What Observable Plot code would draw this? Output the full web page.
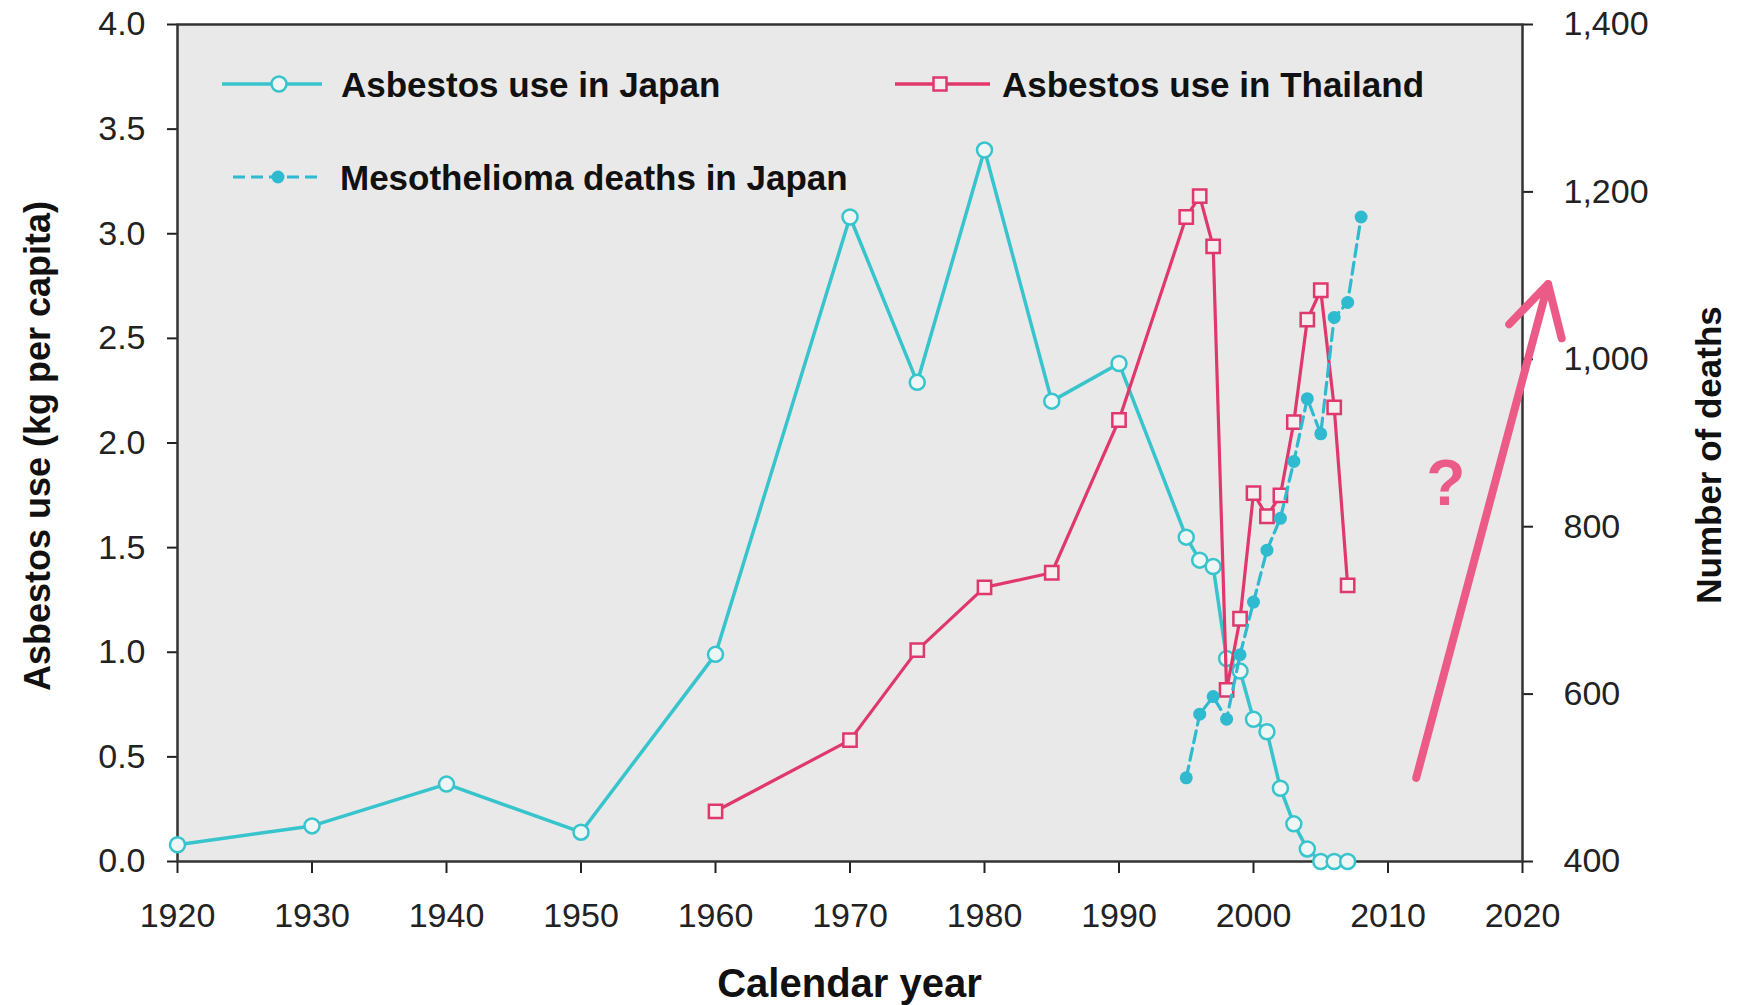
<!DOCTYPE html>
<html><head><meta charset="utf-8">
<script src="https://cdn.jsdelivr.net/npm/d3@7"></script>
<script src="https://cdn.jsdelivr.net/npm/@observablehq/plot@0.6"></script>
<style>body{margin:0;background:#fff;} #chart svg{display:block}</style>
</head><body><div id="chart"></div>
<script>
// ---- data ----
const japanYears = [1920,1930,1940,1950,1960,1970,1975,1980,1985,1990,1995,1996,1997,1998,1999,2000,2001,2002,2003,2004,2005,2006,2007];
const japanUse   = [0.08,0.17,0.37,0.14,0.99,3.08,2.29,3.40,2.20,2.38,1.55,1.44,1.41,0.97,0.91,0.68,0.62,0.35,0.18,0.06,0,0,0];

const thaiYears = [1960,1970,1975,1980,1985,1990,1995,1996,1997,1998,1999,2000,2001,2002,2003,2004,2005,2006,2007];
const thaiUse   = [0.24,0.58,1.01,1.31,1.38,2.11,3.08,3.18,2.94,0.82,1.16,1.76,1.65,1.75,2.10,2.59,2.73,2.17,1.32];

const mesoYears  = [1995,1996,1997,1998,1999,2000,2001,2002,2003,2004,2005,2006,2007,2008];
const mesoDeaths = [500,576,597,570,647,710,772,810,878,953,911,1050,1068,1170];

const xTicks = [1920,1930,1940,1950,1960,1970,1980,1990,2000,2010,2020];
const useTicks = [0,0.5,1,1.5,2,2.5,3,3.5,4];
const deathTicks = [400,600,800,1000,1200,1400];

const legendLabels = ["Asbestos use in Japan","Asbestos use in Thailand","Mesothelioma deaths in Japan"];
const xTitle = "Calendar year";
const yTitle = "Asbestos use (kg per capita)";
const y2Title = "Number of deaths";

// trend arrow annotation (data coordinates: year, kg per capita)
const trendArrow = [{x1: 2012.1, y1: 0.40, x2: 2021.9, y2: 2.76}];
const questionMark = [{year: 2014.3, value: 1.80, label: "?"}];

// ---- build ----
const W = 1739, H = 1005;
const cyan = "#37c4cc", red = "#e0376d", mesoC = "#2fbad0", pink = "#ec5a87";
const deathsMin = 400, deathsMax = 1400, useMax = 4;
const deathToY = d => (d - deathsMin) / (deathsMax - deathsMin) * useMax;

const japan = japanYears.map((year, i) => ({year, value: japanUse[i]}));
const thai = thaiYears.map((year, i) => ({year, value: thaiUse[i]}));
const meso = mesoYears.map((year, i) => ({year, deaths: mesoDeaths[i]}));

const font = "'Liberation Sans', Arial, Helvetica, sans-serif";

const plot = Plot.plot({
  width: W, height: H,
  marginLeft: 177, marginRight: 217, marginTop: 24, marginBottom: 144,
  style: {fontFamily: font, fontSize: "34px", color: "#222", background: "#fff", overflow: "visible"},
  x: {domain: [1920, 2020]},
  y: {domain: [0, 4]},
  marks: [
    Plot.frame({fill: "#e9e9e9", stroke: null}),
    Plot.axisX({ticks: xTicks, tickFormat: d => String(d), tickSize: 12, tickPadding: 29, strokeWidth: 2, label: null}),
    Plot.axisY({ticks: useTicks, tickFormat: d3.format(".1f"), tickSize: 10, tickPadding: 22, strokeWidth: 2, label: null}),
    Plot.axisY({anchor: "right", ticks: deathTicks.map(deathToY), tickFormat: v => d3.format(",")(Math.round(deathsMin + v / useMax * (deathsMax - deathsMin))), tickSize: 10, tickPadding: 31, strokeWidth: 2, label: null}),
    Plot.frame({stroke: "#333", strokeWidth: 2.5, fill: null}),
    Plot.line(japan, {x: "year", y: "value", stroke: cyan, strokeWidth: 3.5}),
    Plot.dot(japan, {x: "year", y: "value", r: 7.5, stroke: cyan, strokeWidth: 2.5, fill: "#eef5f5"}),
    Plot.line(thai, {x: "year", y: "value", stroke: red, strokeWidth: 3.2}),
    Plot.dot(thai, {x: "year", y: "value", symbol: "square", r: 7.5, stroke: red, strokeWidth: 2.5, fill: "#f5eef0"}),
    Plot.line(meso, {x: "year", y: d => deathToY(d.deaths), stroke: mesoC, strokeWidth: 3.2, strokeDasharray: "12,6"}),
    Plot.dot(meso, {x: "year", y: d => deathToY(d.deaths), r: 6.5, fill: mesoC, stroke: null}),
    Plot.arrow(trendArrow, {x1: "x1", y1: "y1", x2: "x2", y2: "y2", stroke: pink, strokeWidth: 8, headLength: 10.5, headAngle: 58}),
    Plot.text(questionMark, {x: "year", y: "value", text: "label", fill: pink, fontSize: 64, fontWeight: "bold", lineAnchor: "middle"})
  ]
});

const svg = d3.select(plot);

// legend
const leg = svg.append("g").attr("font-family", font).attr("font-weight", "bold").attr("font-size", 35).attr("fill", "#111").attr("text-anchor", "start");
const items = [
  {label: legendLabels[0], x0: 222, x1: 322, xm: 279, y: 84, text: 341, kind: "circle", color: cyan},
  {label: legendLabels[1], x0: 895, x1: 990, xm: 940, y: 84, text: 1002, kind: "square", color: red},
  {label: legendLabels[2], x0: 233, x1: 318, xm: 278, y: 177, text: 340, kind: "dot", color: mesoC}
];
for (const it of items) {
  leg.append("line").attr("x1", it.x0).attr("x2", it.x1).attr("y1", it.y).attr("y2", it.y)
    .attr("stroke", it.color).attr("stroke-width", it.kind === "dot" ? 3.2 : 3.5)
    .attr("stroke-dasharray", it.kind === "dot" ? "12,6" : null);
  if (it.kind === "circle") leg.append("circle").attr("cx", it.xm).attr("cy", it.y).attr("r", 7.5).attr("fill", "#eef5f5").attr("stroke", it.color).attr("stroke-width", 2.5);
  if (it.kind === "square") leg.append("rect").attr("x", it.xm - 6.5).attr("y", it.y - 6.5).attr("width", 13).attr("height", 13).attr("fill", "#f5eef0").attr("stroke", it.color).attr("stroke-width", 2.5);
  if (it.kind === "dot") leg.append("circle").attr("cx", it.xm).attr("cy", it.y).attr("r", 6.5).attr("fill", it.color);
  leg.append("text").attr("x", it.text).attr("y", it.y).attr("dy", "0.36em").text(it.label);
}

// axis titles
const titles = svg.append("g").attr("font-family", font).attr("font-weight", "bold").attr("fill", "#111").attr("text-anchor", "middle");
titles.append("text").attr("font-size", 36).attr("transform", "translate(37,446) rotate(-90)").attr("dy", "0.36em").text(yTitle);
titles.append("text").attr("font-size", 35).attr("transform", "translate(1708,455) rotate(-90)").attr("dy", "0.36em").text(y2Title);
titles.append("text").attr("font-size", 40).attr("x", 849.5).attr("y", 983).attr("dy", "0.36em").text(xTitle);

document.getElementById("chart").appendChild(plot);
</script>
</body></html>
